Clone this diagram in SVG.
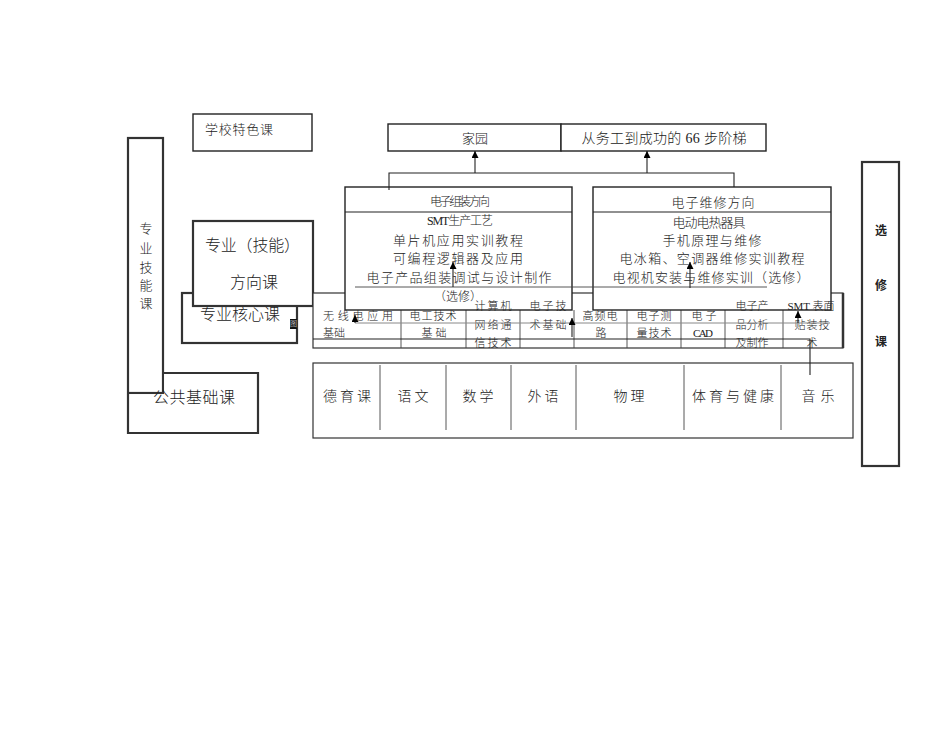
<svg xmlns="http://www.w3.org/2000/svg" width="950" height="735" viewBox="0 0 950 735">
<defs>
<style>
text { font-family: "Liberation Serif", "Noto Sans CJK SC", serif; fill:#222; font-weight:300; dominant-baseline: central; }
.c { text-anchor: middle; }
.box { fill:#fff; stroke:#222; stroke-width:1.4; }
.thick { fill:#fff; stroke:#333; stroke-width:2.2; }
.ln { fill:none; stroke:#222; stroke-width:1.1; }
.thin { fill:none; stroke:#444; stroke-width:0.9; }
.grey { fill:none; stroke:#888; stroke-width:1; }
.f11 { font-size:11px; }
.f12 { font-size:12px; }
.f13 { font-size:13px; }
.f14 { font-size:14px; }
.f16 { font-size:16px; }
.b { font-weight:bold; }
</style>
<marker id="ah" markerWidth="7" markerHeight="7" refX="7" refY="3.5" orient="auto" markerUnits="userSpaceOnUse">
<path d="M0,0 L7,3.5 L0,7 z" fill="#000"/>
</marker>
</defs>
<rect width="950" height="735" fill="#fff"/>

<g id="school-feature">
<rect class="box" x="193" y="114" width="119" height="37"/>
<text class="f13" x="205" y="129" textLength="68">学校特色课</text>
</g>

<g id="core-course">
<rect class="thick" x="182" y="293" width="115" height="50"/>
<text class="f16" x="200" y="314" textLength="80">专业核心课</text>
<rect x="290" y="319" width="7" height="10" fill="#111"/>
<text x="293.5" y="324" class="c" style="font-size:7px;fill:#fff">图</text>
</g>

<g id="direction-course">
<rect class="thick" x="193" y="221" width="120" height="85"/>
<text class="f16" x="205" y="245" textLength="95">专业（技能）</text>
<text class="f16" x="230" y="282" textLength="48">方向课</text>
</g>

<g id="skill-course">
<rect class="thick" x="128" y="138" width="35" height="255"/>
<text class="f13 c" x="146" y="228">专</text>
<text class="f13 c" x="146" y="248">业</text>
<text class="f13 c" x="146" y="267">技</text>
<text class="f13 c" x="146" y="285">能</text>
<text class="f13 c" x="146" y="303">课</text>
</g>

<g id="public-foundation">
<path d="M164.2,373 H258 V433 H128 V394.2 H164.2 Z" fill="#fff" stroke="none"/>
<path d="M164,373 H258 V433 H128 V394" fill="none" stroke="#333" stroke-width="2.2"/>
<text class="f16" x="153" y="397" textLength="82">公共基础课</text>
</g>

<g id="core-table">
<rect x="313" y="293" width="530" height="55" fill="#fff" stroke="#333" stroke-width="1.2"/>
<line x1="843" y1="293" x2="843" y2="348" stroke="#333" stroke-width="2.5"/>
<path class="thin" d="M401,310 V348 M466,306 V348 M520,306 V348 M574,310 V348 M627,310 V348 M681,310 V348 M725,306 V348 M783,306 V348"/>
</g>

<g id="public-table">
<rect x="313" y="363" width="540" height="75" fill="#fff" stroke="#333" stroke-width="1.2"/>
<path class="thin" d="M380,365 V430 M446,365 V430 M511,365 V430 M576,365 V430 M684,365 V430 M781,365 V430"/>
<text class="f14 c" x="347" y="396" textLength="48">德育课</text>
<text class="f14 c" x="413" y="396" textLength="31">语文</text>
<text class="f14 c" x="478" y="396" textLength="31">数学</text>
<text class="f14 c" x="543" y="396" textLength="31">外语</text>
<text class="f14 c" x="629" y="396" textLength="31">物理</text>
<text class="f14 c" x="733" y="396" textLength="82">体育与健康</text>
<text class="f14 c" x="818" y="396" textLength="33">音乐</text>
</g>

<g id="home">
<rect class="box" x="388" y="124" width="173" height="27"/>
<text class="f13 c" x="475" y="138" textLength="26">家园</text>
</g>
<g id="ladder">
<rect class="box" x="561" y="124" width="205" height="27"/>
<text class="f14 c" x="664" y="138" textLength="165">从务工到成功的 66 步阶梯</text>
</g>

<g id="assembly">
<rect class="box" x="345" y="187" width="227" height="123"/>
<line class="ln" x1="345" y1="212" x2="572" y2="212"/>
<text class="f12 c" x="460" y="202" textLength="60">电子组装方向</text>
<text class="f12 c" x="460" y="221" textLength="66">SMT生产工艺</text>
<text class="f13 c" x="458" y="240" textLength="130">单片机应用实训教程</text>
<text class="f13 c" x="458" y="258" textLength="130">可编程逻辑器及应用</text>
<text class="f13 c" x="459" y="277" textLength="185">电子产品组装调试与设计制作</text>
<text class="f12 c" x="458" y="297">（选修）</text>
</g>

<g id="repair">
<rect class="box" x="593" y="187" width="238" height="123"/>
<line class="ln" x1="593" y1="212" x2="831" y2="212"/>
<text class="f13 c" x="713" y="202" textLength="83">电子维修方向</text>
<text class="f13 c" x="709" y="222" textLength="73">电动电热器具</text>
<text class="f13 c" x="712" y="240" textLength="99">手机原理与维修</text>
<text class="f13 c" x="712" y="258" textLength="185">电冰箱、空调器维修实训教程</text>
<text class="f13 c" x="711" y="277" textLength="197">电视机安装与维修实训（选修）</text>
</g>

<g id="cell-radio">
<text class="f11" x="323" y="316" textLength="70">无线电应用</text>
<text class="f11" x="323" y="333" textLength="22">基础</text>
</g>
<g id="cell-electrician">
<text class="f11 c" x="433" y="316" textLength="47">电工技术</text>
<text class="f11 c" x="434" y="333" textLength="25">基础</text>
</g>
<g id="cell-network">
<text class="f11 c" x="493" y="306" textLength="37">计算机</text>
<text class="f11 c" x="493" y="325" textLength="37">网络通</text>
<text class="f11 c" x="493" y="343" textLength="37">信技术</text>
</g>
<g id="cell-electronics">
<text class="f11 c" x="548" y="306" textLength="37">电子技</text>
<text class="f11 c" x="548" y="325" textLength="37">术基础</text>
</g>
<g id="cell-hf">
<text class="f11 c" x="600" y="316" textLength="35">高频电</text>
<text class="f11 c" x="601" y="333">路</text>
</g>
<g id="cell-measure">
<text class="f11 c" x="654" y="316" textLength="35">电子测</text>
<text class="f11 c" x="654" y="333" textLength="35">量技术</text>
</g>
<g id="cell-cad">
<text class="f11 c" x="704" y="316" textLength="25">电子</text>
<text class="f11 c" x="703" y="333" textLength="20">CAD</text>
</g>
<g id="cell-product">
<text class="f11 c" x="752" y="306" textLength="33">电子产</text>
<text class="f11 c" x="752" y="325" textLength="33">品分析</text>
<text class="f11 c" x="752" y="343" textLength="33">及制作</text>
</g>
<g id="cell-smt">
<text class="f11 c" x="811" y="306" textLength="47">SMT 表面</text>
<text class="f11 c" x="812" y="325" textLength="35">贴装技</text>
<text class="f11 c" x="812" y="343">术</text>
</g>

<g id="elective">
<rect class="thick" x="862" y="162" width="37" height="304"/>
<text class="f12 c b" x="881" y="231">选</text>
<text class="f12 c b" x="881" y="286">修</text>
<text class="f12 c b" x="881" y="342">课</text>
</g>

<g id="connectors">
<path class="ln" d="M389,190 V173 H734 V187" stroke="#444"/>
<path class="ln" d="M475,173 V151" marker-end="url(#ah)"/>
<path class="ln" d="M647,173 V151" marker-end="url(#ah)"/>
<path class="thin" d="M355,287 H767"/>
<path class="grey" d="M355,323 H830"/>
<path class="ln" d="M313,339 H810 V375"/>
<path class="ln" d="M453,287 V262" marker-end="url(#ah)"/>
<path class="ln" d="M690,288 V262" marker-end="url(#ah)"/>
<path class="ln" d="M355,323 V315" marker-end="url(#ah)"/>
<path class="ln" d="M572,337 V318" marker-end="url(#ah)"/>
<path class="ln" d="M798,323 V311" marker-end="url(#ah)"/>
</g>
</svg>
